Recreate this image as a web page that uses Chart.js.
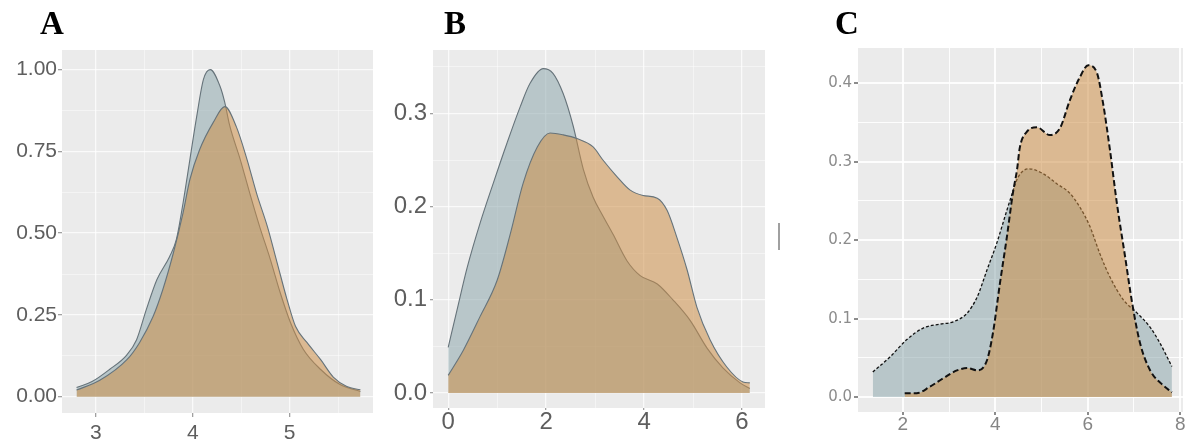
<!DOCTYPE html>
<html>
<head>
<meta charset="utf-8">
<script src="https://cdn.jsdelivr.net/npm/chart.js@4"></script>
<style>
  body { margin: 0; background: #fff; width: 1189px; height: 443px; position: relative; overflow: hidden; }
  .panel { position: absolute; top: 0; }
  .tag { position: absolute; top: 7px; font: bold 33px "Liberation Serif", "Times New Roman", serif; line-height: 33px; color: #000; }
  .mark { position: absolute; left: 778px; top: 223px; width: 2px; height: 27px; background: #a0a0a0; }
</style>
</head>
<body>
<canvas id="chartA" class="panel" style="left:0" width="385" height="443"></canvas>
<canvas id="chartB" class="panel" style="left:390px" width="390" height="443"></canvas>
<canvas id="chartC" class="panel" style="left:780px" width="409" height="443"></canvas>
<div class="tag" style="left:40px">A</div>
<div class="tag" style="left:444px">B</div>
<div class="tag" style="left:835px">C</div>
<div class="mark"></div>
<script>
// Panel A densities
const aBlueX = [2.80, 2.96, 3.14, 3.32, 3.42, 3.52, 3.63, 3.76, 3.83, 3.90, 3.97, 4.04, 4.11, 4.18, 4.28, 4.33, 4.38, 4.49, 4.59, 4.69, 4.80, 4.90, 5.01, 5.14, 5.32, 5.52, 5.73];
const aBlueY = [0.028, 0.046, 0.083, 0.128, 0.174, 0.266, 0.358, 0.428, 0.48, 0.593, 0.725, 0.856, 0.97, 1.00, 0.95, 0.90, 0.83, 0.725, 0.62, 0.52, 0.42, 0.32, 0.225, 0.145, 0.083, 0.037, 0.016];
const aOrangeX = [2.80, 3.04, 3.32, 3.45, 3.59, 3.69, 3.80, 3.90, 3.97, 4.07, 4.21, 4.33, 4.45, 4.56, 4.66, 4.77, 4.87, 4.97, 5.06, 5.18, 5.32, 5.45, 5.59, 5.73];
const aOrangeY = [0.02, 0.05, 0.113, 0.165, 0.245, 0.327, 0.44, 0.563, 0.664, 0.755, 0.838, 0.887, 0.825, 0.725, 0.62, 0.52, 0.41, 0.30, 0.215, 0.165, 0.113, 0.06, 0.031, 0.021];
const aXTicks = [3, 4, 5];
const aXMinor = [3.5, 4.5, 5.5];
const aYTicks = [0, 0.25, 0.5, 0.75, 1.0];
const aYMinor = [0.125, 0.375, 0.625, 0.875];

// Panel B densities
const bBlueX = [0, 0.18, 0.39, 0.65, 0.92, 1.20, 1.47, 1.67, 1.94, 2.14, 2.35, 2.55, 2.76, 2.96, 3.16, 3.37, 3.65, 3.92, 4.27, 4.59, 4.94, 5.29, 5.61, 5.96, 6.16];
const bBlueY = [0.049, 0.089, 0.135, 0.182, 0.225, 0.268, 0.307, 0.332, 0.348, 0.343, 0.321, 0.287, 0.240, 0.210, 0.190, 0.170, 0.142, 0.126, 0.117, 0.100, 0.078, 0.048, 0.027, 0.011, 0.005];
const bOrangeX = [0, 0.31, 0.65, 1.0, 1.27, 1.53, 1.82, 2.08, 2.35, 2.63, 2.96, 3.16, 3.45, 3.71, 3.98, 4.27, 4.47, 4.67, 4.88, 5.08, 5.35, 5.69, 6.02, 6.16];
const bOrangeY = [0.019, 0.046, 0.082, 0.121, 0.171, 0.225, 0.264, 0.279, 0.277, 0.273, 0.264, 0.25, 0.232, 0.218, 0.212, 0.209, 0.196, 0.167, 0.132, 0.092, 0.057, 0.028, 0.012, 0.011];
const bXTicks = [0, 2, 4, 6];
const bXMinor = [1, 3, 5];
const bYTicks = [0, 0.1, 0.2, 0.3];
const bYMinor = [0.05, 0.15, 0.25, 0.35];

// Panel C densities
const cBlueX = [1.35, 1.72, 2.08, 2.44, 2.80, 3.09, 3.39, 3.61, 3.82, 4.03, 4.25, 4.38, 4.49, 4.72, 5.03, 5.33, 5.61, 5.83, 6.05, 6.26, 6.48, 6.77, 7.07, 7.35, 7.56, 7.82];
const cBlueY = [0.032, 0.051, 0.073, 0.088, 0.093, 0.096, 0.107, 0.128, 0.162, 0.196, 0.238, 0.262, 0.28, 0.291, 0.285, 0.272, 0.26, 0.242, 0.217, 0.183, 0.153, 0.124, 0.107, 0.089, 0.069, 0.039];
const cOrangeX = [2.04, 2.30, 2.58, 2.87, 3.17, 3.39, 3.62, 3.82, 3.95, 4.10, 4.25, 4.38, 4.47, 4.53, 4.68, 4.90, 5.18, 5.40, 5.61, 5.83, 6.01, 6.20, 6.33, 6.48, 6.63, 6.81, 6.96, 7.13, 7.35, 7.63, 7.82];
const cOrangeY = [0.005, 0.005, 0.013, 0.024, 0.034, 0.037, 0.034, 0.047, 0.082, 0.145, 0.204, 0.26, 0.29, 0.318, 0.338, 0.344, 0.334, 0.343, 0.378, 0.408, 0.423, 0.413, 0.375, 0.315, 0.247, 0.178, 0.12, 0.069, 0.034, 0.015, 0.006];
const cXTicks = [2, 4, 6, 8];
const cXMinor = [3, 5, 7];
const cYTicks = [0, 0.1, 0.2, 0.3, 0.4];
const cYMinor = [0.05, 0.15, 0.25, 0.35];

const blueFill = "rgba(128, 156, 162, 0.48)";
const orangeFill = "rgba(206, 142, 70, 0.54)";

function pts(xs, ys) {
  return xs.map((x, i) => ({ x: x, y: ys[i] }));
}

// grey panel behind the grid, ggplot style
const panelBg = {
  id: "panelBg",
  beforeDraw(chart) {
    const a = chart.chartArea;
    const c = chart.ctx;
    c.save();
    c.fillStyle = "#ebebeb";
    c.fillRect(a.left, a.top, a.right - a.left, a.bottom - a.top);
    c.restore();
  },
};

function axis(o) {
  return {
    type: "linear",
    min: o.min,
    max: o.max,
    afterBuildTicks: (s) => {
      s.ticks = o.major.map((v) => ({ value: v, major: true }))
        .concat(o.minor.map((v) => ({ value: v, major: false })));
    },
    afterFit: (s) => {
      if (o.width) s.width = o.width;
      if (o.height) s.height = o.height;
    },
    border: { display: false },
    grid: {
      color: o.gridColor,
      lineWidth: (c) => (c.tick && c.tick.major ? o.majorW : o.minorW),
      tickColor: (c) => (c.tick && c.tick.major ? o.tickColor : "rgba(0,0,0,0)"),
      tickLength: o.tickLength,
    },
    ticks: {
      autoSkip: false,
      maxRotation: 0,
      padding: o.padding,
      color: o.color,
      font: o.font,
      callback: (v, i, ts) => (ts[i].major ? o.fmt(v) : ""),
    },
  };
}

function series(xs, ys, fill, line, width, dash, order) {
  return {
    data: pts(xs, ys),
    fill: "origin",
    backgroundColor: fill,
    borderColor: line,
    borderWidth: width,
    borderDash: dash,
    pointRadius: 0,
    cubicInterpolationMode: "monotone",
    order: order,
  };
}

function makeChart(id, datasets, padding, xAxis, yAxis) {
  return new Chart(document.getElementById(id).getContext("2d"), {
    type: "line",
    data: { datasets: datasets },
    options: {
      responsive: false,
      animation: false,
      events: [],
      layout: { padding: padding },
      plugins: { legend: { display: false }, tooltip: { enabled: false } },
      scales: { x: xAxis, y: yAxis },
    },
    plugins: [panelBg],
  });
}

const sans = "'Liberation Sans', Arial, sans-serif";
const outline = "#66737a";
const softGrid = "rgba(255,255,255,0.75)";

makeChart(
  "chartA",
  [
    series(aBlueX, aBlueY, blueFill, outline, 1.1, [], 1),
    series(aOrangeX, aOrangeY, orangeFill, outline, 1.1, [], 0),
  ],
  { top: 50, right: 12, left: 0, bottom: 0 },
  axis({ min: 2.65, max: 5.86, major: aXTicks, minor: aXMinor, height: 30, tickLength: 4, padding: 6,
    gridColor: softGrid, majorW: 1.3, minorW: 0.6, tickColor: "#a0a0a0", color: "#5e5e5e",
    font: { family: sans, size: 21, lineHeight: 1 }, fmt: (v) => String(v) }),
  axis({ min: -0.05, max: 1.06, major: aYTicks, minor: aYMinor, width: 62, tickLength: 4, padding: 1,
    gridColor: softGrid, majorW: 1.3, minorW: 0.6, tickColor: "#a0a0a0", color: "#5e5e5e",
    font: { family: sans, size: 21, lineHeight: 1 }, fmt: (v) => v.toFixed(2) })
);

makeChart(
  "chartB",
  [
    series(bBlueX, bBlueY, blueFill, outline, 1.1, [], 1),
    series(bOrangeX, bOrangeY, orangeFill, outline, 1.1, [], 0),
  ],
  { top: 50, right: 15, left: 0, bottom: 0 },
  axis({ min: -0.31, max: 6.47, major: bXTicks, minor: bXMinor, height: 35, tickLength: 2, padding: 0,
    gridColor: softGrid, majorW: 1.3, minorW: 0.6, tickColor: "#a0a0a0", color: "#5e5e5e",
    font: { family: sans, size: 24, lineHeight: 1 }, fmt: (v) => String(v) }),
  axis({ min: -0.016, max: 0.368, major: bYTicks, minor: bYMinor, width: 43, tickLength: 3, padding: 3,
    gridColor: softGrid, majorW: 1.3, minorW: 0.6, tickColor: "#a0a0a0", color: "#5e5e5e",
    font: { family: sans, size: 24, lineHeight: 1 }, fmt: (v) => v.toFixed(1) })
);

makeChart(
  "chartC",
  [
    series(cBlueX, cBlueY, blueFill, "#111111", 1.3, [3, 2], 1),
    series(cOrangeX, cOrangeY, orangeFill, "#111111", 2, [6, 3], 0),
  ],
  { top: 48, right: 6, left: 0, bottom: 0 },
  axis({ min: 1.03, max: 8.06, major: cXTicks, minor: cXMinor, height: 31, tickLength: 3, padding: 0,
    gridColor: "rgba(255,255,255,0.9)", majorW: 2, minorW: 1, tickColor: "#8c8c8c", color: "#858585",
    font: { family: sans, size: 19, lineHeight: 1 }, fmt: (v) => String(v) }),
  axis({ min: -0.019, max: 0.445, major: cYTicks, minor: cYMinor, width: 78, tickLength: 4, padding: 2,
    gridColor: "rgba(255,255,255,0.9)", majorW: 2, minorW: 1, tickColor: "#8c8c8c", color: "#8c8c8c",
    font: { family: "'DejaVu Sans', sans-serif", size: 15, lineHeight: 1 }, fmt: (v) => v.toFixed(1) })
);
</script>
</body>
</html>
